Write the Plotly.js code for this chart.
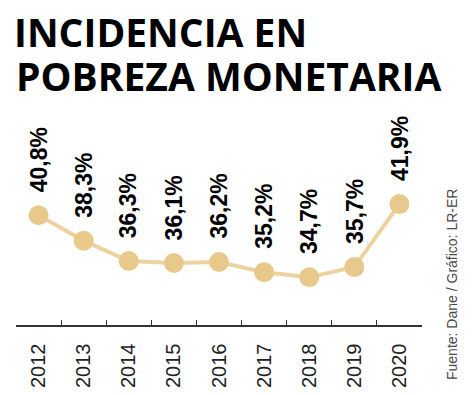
<!DOCTYPE html>
<html>
<head>
<meta charset="utf-8">
<script src="https://cdn.plot.ly/plotly-3.0.1.min.js"></script>
<style>html,body{margin:0;padding:0;background:#fff;}#chart{width:474px;height:395px;}</style>
</head>
<body>
<div id="chart"></div>
<script>
const years = ["2012","2013","2014","2015","2016","2017","2018","2019","2020"];
const values = [40.8, 38.3, 36.3, 36.1, 36.2, 35.2, 34.7, 35.7, 41.9];
const labels = ["40,8%","38,3%","36,3%","36,1%","36,2%","35,2%","34,7%","35,7%","41,9%"];
const titleLine1 = "INCIDENCIA EN";
const titleLine2 = "POBREZA MONETARIA";
const sourceText = "Fuente: Dane / Gráfico: LR-ER";

const W = 474, H = 395;
const M = {l: 16, r: 52, t: 120, b: 70};
const plotH = H - M.t - M.b;
const yMin = 30, pxPerUnit = 10.16;
const yMax = yMin + plotH / pxPerUnit;
const py = p => (H - M.b - p) / plotH;          // pixel y -> paper
const px = p => (p - M.l) / (W - M.l - M.r);    // pixel x -> paper

const tan = "#e8c98c";
const sans = "Liberation Sans, Arial, sans-serif";
const titleFont = "Open Sans, sans-serif";

const trace = {
  x: years.map((_, i) => i), y: values, type: "scatter", mode: "lines+markers",
  line: {color: "#ecd29f", width: 4},
  marker: {color: tan, size: 20},
  hoverinfo: "skip", cliponaxis: false
};

const annotations = years.map((yr, i) => ({
  x: i, y: values[i], xref: "x", yref: "y",
  text: labels[i], showarrow: false, textangle: -90,
  xanchor: "center", yanchor: "bottom", yshift: 21,
  font: {family: sans, size: 23, color: "#000", weight: 700}
}));

annotations.push({
  xref: "paper", yref: "paper", x: px(14), y: py(104),
  xanchor: "left", yanchor: "bottom", showarrow: false,
  text: titleLine2,
  font: {family: titleFont, size: 39, color: "#000", weight: 700}
});
annotations.push({
  xref: "paper", yref: "paper", x: px(452), y: py(285),
  xanchor: "center", yanchor: "middle", showarrow: false, textangle: -90,
  text: sourceText,
  font: {family: sans, size: 14, color: "#4a4a4a"}
});

const layout = {
  width: W, height: H,
  margin: M,
  paper_bgcolor: "#fff", plot_bgcolor: "#fff",
  showlegend: false,
  title: {
    text: titleLine1, xref: "container", yref: "container",
    x: 14 / W, xanchor: "left", y: 1 - 20 / H, yanchor: "top",
    font: {family: titleFont, size: 39, color: "#000", weight: 700}
  },
  xaxis: {
    type: "linear", range: [-0.5, 8.5], fixedrange: true,
    tickmode: "array", tickvals: years.map((_, i) => i), ticktext: years,
    showline: true, linecolor: "#333", linewidth: 1.5,
    ticks: "", tickangle: -90, showgrid: false, zeroline: false,
    tickfont: {family: sans, size: 20, color: "#222"},
    ticklabelstandoff: 9
  },
  xaxis2: {
    overlaying: "x", matches: "x", anchor: "y", side: "bottom",
    range: [-0.5, 8.5], fixedrange: true,
    tickmode: "array", tickvals: years.map((_, i) => i - 0.5).concat([years.length - 0.5]),
    ticktext: years.map(() => "").concat([""]),
    ticks: "inside", ticklen: 5, tickwidth: 1.2, tickcolor: "#333",
    showline: false, showgrid: false, zeroline: false, showticklabels: false
  },
  yaxis: {
    range: [yMin, yMax], visible: false, showgrid: false, zeroline: false, fixedrange: true
  },
  annotations: annotations
};

const tickTrace = {x: [], y: [], xaxis: "x2", yaxis: "y", type: "scatter", hoverinfo: "skip"};

Plotly.newPlot("chart", [trace, tickTrace], layout, {displayModeBar: false, staticPlot: true});
</script>
</body>
</html>
